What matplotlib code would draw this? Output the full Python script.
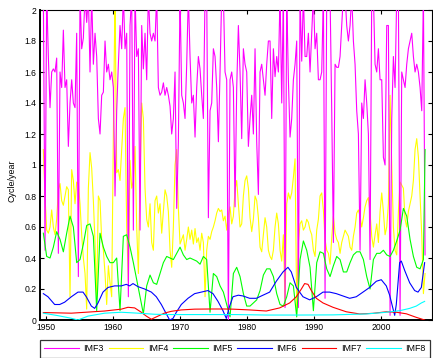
import numpy as np
import matplotlib
matplotlib.use("Agg")
import matplotlib.pyplot as plt

plt.rcParams['font.family'] = ['Liberation Sans', 'DejaVu Sans']

# ---------------- data ----------------
# common time base for IMF3 / IMF4 (years)
t_start = 1949.56
t_step = 0.2488
n_pts = 230

imf3_first = [1949.06, 2.1]   # value at the left edge of the record

imf3 = [2.1, 0.45, 2.1, 1.7, 1.37, 1.6, 1.62, 1.6, 1.69, 0.43,
        1.6, 1.5, 1.87, 1.5, 1.55, 1.12, 1.4, 1.55, 1.4, 1.37,
        1.85, 0.28, 2.1, 1.75, 1.82, 2.1, 1.92, 2.1, 1.6, 2.1,
        1.65, 1.85, 1.7, 1.3, 1.2, 1.45, 1.47, 1.8, 1.6, 1.65,
        1.55, 1.6, 1.5, 0.8, 1.35, 1.65, 1.9, 1.75, 2.1, 1.75,
        1.85, 0.15, 1.9, 2.1, 0.58, 2.1, 1.7, 1.75, 0.58, 1.9,
        1.62, 1.85, 1.55, 2.1, 1.85, 1.8, 1.85, 1.8, 2.1, 1.5,
        1.45, 1.47, 1.53, 1.45, 1.5, 1.45, 1.38, 1.2, 1.3, 1.6,
        0.72, 1.15, 2.1, 1.45, 1.4, 1.3, 1.65, 2.1, 1.7, 1.4,
        1.45, 1.18, 1.5, 1.7, 1.62, 1.45, 1.3, 2.1, 2.1, 0.66,
        1.35, 1.4, 1.75, 1.7, 1.5, 1.15, 1.6, 2.1, 2.1, 1.6,
        1.55, 0.0, 1.55, 1.6, 1.5, 0.73, 1.5, 1.9, 1.6, 1.17,
        1.75, 1.65, 1.6, 1.12, 1.3, 1.45, 1.2, 1.75, 1.15, 0.81,
        1.6, 1.65, 1.55, 1.45, 1.65, 1.8, 1.8, 1.3, 1.75, 1.57,
        1.7, 1.6, 2.1, 1.4, 2.1, 0.08, 2.1, 1.55, 1.18, 1.3,
        1.55, 1.65, 1.8, 0.08, 2.1, 1.67, 2.1, 1.7, 1.7, 1.85,
        1.6, 1.85, 2.1, 1.75, 1.85, 1.55, 1.55, 1.6, 2.1, 0.14,
        2.1, 2.1, 2.1, 1.35, 0.5, 1.65, 1.63, 1.63, 1.7, 1.9,
        2.1, 2.1, 1.9, 1.8, 1.9, 2.1, 1.8, 1.65, 1.35, 1.2,
        0.45, 1.4, 1.3, 1.55, 1.4, 1.2, 0.39, 2.1, 2.1, 1.65,
        1.6, 1.75, 1.55, 1.55, 1.05, 1.0, 1.9, 1.9, 0.03, 1.3,
        1.7, 1.5, 2.1, 2.1, 0.03, 1.6, 1.55, 1.5, 1.65, 1.75,
        1.8, 1.85, 1.7, 1.6, 1.65, 1.6, 1.5, 1.35, 2.1, 0.42]

imf4 = [1.1, 0.8, 0.58, 0.56, 0.6, 0.71, 0.6, 0.55, 0.65, 0.84,
        0.88, 0.77, 0.74, 0.8, 0.86, 0.84, 0.15, 0.97, 0.9, 0.75,
        0.89, 0.88, 0.75, 0.55, 0.4, 0.3, 0.07, 0.85, 1.08, 0.98,
        0.77, 0.5, 0.15, 0.8, 0.77, 0.52, 0.45, 0.3, 0.1, 0.35,
        0.24, 0.15, 1.2, 2.1, 0.95, 0.97, 0.9, 1.1, 1.3, 1.37,
        0.6, 0.25, 1.03, 0.85, 0.9, 1.12, 0.6, 0.3, 0.9, 1.4,
        1.3, 0.85, 0.65, 0.6, 0.75, 0.5, 0.45, 0.77, 0.8, 0.69,
        0.75, 0.56, 0.7, 0.84, 0.8, 0.7, 0.45, 0.34, 0.6, 1.0,
        1.1, 0.72, 0.49, 0.52, 0.55, 0.45, 0.52, 0.6, 0.52, 0.58,
        0.49, 0.59, 0.5, 0.53, 0.45, 0.56, 0.5, 0.15, 0.45, 0.54,
        0.52, 0.57, 0.6, 0.64, 0.69, 0.72, 0.7, 0.71, 0.64, 0.67,
        0.58, 0.68, 0.73, 0.62, 0.67, 0.84, 0.9, 0.75, 0.6, 0.62,
        0.8, 0.9, 0.93, 0.85, 0.66, 0.57, 0.65, 0.8, 0.77, 0.66,
        0.47, 0.44, 0.55, 0.66, 0.6, 0.45, 0.41, 0.39, 0.45, 0.6,
        0.69, 0.62, 0.45, 0.38, 0.55, 0.1, 0.75, 0.82, 0.78, 0.82,
        0.92, 1.04, 0.07, 0.5, 0.62, 0.64, 0.58, 0.6, 0.65, 0.63,
        0.58, 0.55, 0.45, 0.41, 0.58, 0.65, 0.8, 0.82, 0.71, 0.52,
        0.45, 0.43, 0.36, 0.53, 0.67, 0.56, 0.52, 0.5, 0.43, 0.5,
        0.54, 0.58, 0.56, 0.54, 0.47, 0.45, 0.54, 0.6, 0.69, 0.71,
        0.67, 0.6, 0.66, 0.73, 0.77, 0.79, 0.69, 0.54, 0.47, 0.55,
        0.62, 0.5, 0.7, 0.82, 0.7, 0.55, 0.6, 0.75, 1.45, 1.0,
        0.6, 0.45, 0.42, 0.7, 0.89, 0.87, 0.85, 0.65, 0.6, 0.7,
        0.75, 0.8, 0.9, 1.1, 1.17, 1.05, 0.8, 0.55, 0.17, 0.3]

# IMF5 sampled on every second point of the time base, plus the last point
imf5 = [0.56, 0.41, 0.40, 0.47, 0.57, 0.52, 0.44, 0.56, 0.67, 0.60,
        0.37, 0.39, 0.49, 0.61, 0.62, 0.54, 0.06, 0.56, 0.47, 0.41,
        0.37, 0.37, 0.40, 0.06, 0.54, 0.55, 0.47, 0.37, 0.26, 0.15,
        0.04, 0.22, 0.29, 0.24, 0.23, 0.30, 0.37, 0.41, 0.40, 0.39,
        0.43, 0.47, 0.42, 0.39, 0.40, 0.39, 0.38, 0.36, 0.41, 0.39,
        0.05, 0.30, 0.28, 0.22, 0.18, 0.10, 0.02, 0.30, 0.34,
        0.28, 0.17, 0.09, 0.09, 0.11, 0.13, 0.19, 0.29, 0.33, 0.33,
        0.28, 0.17, 0.10, 0.09, 0.15, 0.24, 0.22, 0.02, 0.39, 0.51,
        0.45, 0.34, 0.06, 0.37, 0.44, 0.43, 0.33, 0.28, 0.35, 0.41,
        0.39, 0.31, 0.31, 0.37, 0.42, 0.44, 0.44, 0.39, 0.28, 0.20,
        0.39, 0.43, 0.43, 0.45, 0.42, 0.41, 0.45, 0.51, 0.58, 0.72,
        0.67, 0.52, 0.41, 0.34, 0.33, 0.39,
        1.1]

imf6_years = [1949.56, 1950.25, 1951.25, 1952.0, 1952.74, 1953.74, 1954.73,
              1955.48, 1955.97, 1956.72, 1957.22, 1957.72, 1958.46, 1959.21,
              1960.2, 1961.2, 1961.94, 1962.44, 1962.94, 1963.69, 1964.68,
              1965.68, 1966.42, 1967.17, 1967.91, 1968.41, 1968.91, 1969.41,
              1970.15, 1971.15, 1972.14, 1973.14, 1974.13, 1974.88, 1975.63,
              1976.37, 1976.87, 1977.37, 1977.86, 1978.66, 1979.36, 1980.35,
              1981.35, 1982.34, 1983.34, 1984.33, 1985.33, 1986.07, 1986.57,
              1987.32, 1988.31, 1989.31, 1990.3, 1991.3, 1992.29, 1993.29,
              1994.28, 1995.28, 1996.27, 1997.27, 1998.26, 1999.26, 2000.0,
              2000.75, 2001.25, 2001.65, 2002.0, 2002.24, 2002.74, 2002.99,
              2003.49, 2004.24, 2004.98, 2005.48, 2005.98, 2006.47]
imf6 = [0.17, 0.15, 0.10, 0.10, 0.115, 0.15, 0.18,
        0.18, 0.15, 0.09, 0.075, 0.11, 0.18, 0.21,
        0.22, 0.22, 0.23, 0.22, 0.235, 0.215, 0.20,
        0.18, 0.15, 0.10, 0.04, 0.0, 0.01, 0.05,
        0.10, 0.14, 0.17, 0.18, 0.19, 0.17, 0.12,
        0.06, 0.01, 0.09, 0.15, 0.16, 0.155, 0.14,
        0.14, 0.16, 0.18, 0.25, 0.31, 0.34, 0.31,
        0.21, 0.15, 0.13, 0.15, 0.18, 0.18, 0.17,
        0.155, 0.14, 0.15, 0.18, 0.21, 0.25, 0.26,
        0.22, 0.16, 0.09, 0.03, 0.10, 0.37, 0.38,
        0.32, 0.24, 0.19, 0.18, 0.21, 0.37]

imf7_years = [1949.56, 1953.74, 1958.71, 1961.2, 1962.19, 1963.19, 1964.18,
              1964.93, 1965.68, 1966.67, 1967.67, 1968.66, 1970.15, 1972.14,
              1974.63, 1976.62, 1977.87, 1980.35, 1982.84, 1984.83, 1986.32,
              1987.32, 1988.07, 1988.56, 1989.06, 1989.56, 1990.3, 1991.3,
              1992.79, 1994.78, 1996.77, 1998.76, 2000.75, 2002.24, 2003.74,
              2005.23, 2006.47]
imf7 = [0.048, 0.044, 0.058, 0.07, 0.082, 0.078, 0.05,
        0.025, 0.005, 0.025, 0.045, 0.056, 0.065, 0.07,
        0.071, 0.071, 0.07, 0.065, 0.058, 0.078, 0.11,
        0.15, 0.2, 0.235, 0.23, 0.19, 0.14, 0.11,
        0.082, 0.053, 0.039, 0.043, 0.053, 0.05, 0.04,
        0.017, 0.0]

imf8_years = [1949.56, 1951.75, 1953.74, 1954.73, 1956.22, 1958.71, 1961.2,
              1963.69, 1966.17, 1968.66, 1973.64, 1978.41, 1982.84, 1987.82,
              1992.79, 1997.77, 2000.25, 2002.74, 2004.24, 2005.23, 2005.98,
              2006.47]
imf8 = [0.044, 0.028, 0.011, 0.0, 0.025, 0.044, 0.05,
        0.044, 0.037, 0.035, 0.035, 0.035, 0.032, 0.032,
        0.033, 0.039, 0.048, 0.06, 0.075, 0.09, 0.11,
        0.12]

labels = ['IMF3', 'IMF4', 'IMF5', 'IMF6', 'IMF7', 'IMF8']
colors = ['#FF00FF', '#FFFF00', '#00FF00', '#0000FF', '#FF0000', '#00FFFF']
xticks = [1950, 1960, 1970, 1980, 1990, 2000]
yticks = [0, 0.2, 0.4, 0.6, 0.8, 1, 1.2, 1.4, 1.6, 1.8, 2]
ytick_labels = ['0', '0.2', '0.4', '0.6', '0.8', '1', '1.2', '1.4', '1.6', '1.8', '2']

# ---------------- figure ----------------
W, H = 433, 358
fig = plt.figure(figsize=(W / 100, H / 100), dpi=100)
ax = fig.add_axes([40 / W, 38 / H, 392 / W, 310 / H])

t = t_start + t_step * np.arange(n_pts)
t3 = np.concatenate([[imf3_first[0]], t])
v3 = np.concatenate([[imf3_first[1]], imf3])
t5 = np.concatenate([t[:n_pts - 1:2], t[-1:]])

lw = 0.8
lines = []
lines += ax.plot(t3, v3, color=colors[0], lw=lw, zorder=3)
lines += ax.plot(t, imf4, color=colors[1], lw=lw, zorder=2)
lines += ax.plot(t5, imf5, color=colors[2], lw=lw, zorder=4)
lines += ax.plot(imf6_years, imf6, color=colors[3], lw=lw, zorder=4)
lines += ax.plot(imf7_years, imf7, color=colors[4], lw=lw, zorder=4)
lines += ax.plot(imf8_years, imf8, color=colors[5], lw=lw, zorder=4)

ax.set_xlim(1949.06, 2007.57)
ax.set_ylim(0, 2)
ax.set_xticks(xticks)
ax.set_yticks(yticks)
ax.set_yticklabels(ytick_labels)
ax.tick_params(direction='in', length=3, width=0.8, labelsize=6.2,
               top=True, right=True, pad=2.5)
for side in ['left', 'bottom']:
    ax.spines[side].set_linewidth(1.4)
for side in ['top', 'right']:
    ax.spines[side].set_linewidth(0.8)

fig.text(12 / W, 1 - 181 / H, 'Cycle/year', rotation=90, ha='center',
         va='center', fontsize=6.4)

leg = fig.legend(lines, labels, loc='upper left',
                 bbox_to_anchor=(40 / W, 1 - 340 / H, 390 / W, 0.0),
                 mode='expand', ncol=6, fontsize=6.4, frameon=True,
                 fancybox=False, edgecolor='black', handlelength=3.9,
                 handletextpad=0.5, borderaxespad=0, borderpad=0.5,
                 columnspacing=1.0)
leg.get_frame().set_linewidth(0.9)

fig.savefig('out.png', dpi=100)
